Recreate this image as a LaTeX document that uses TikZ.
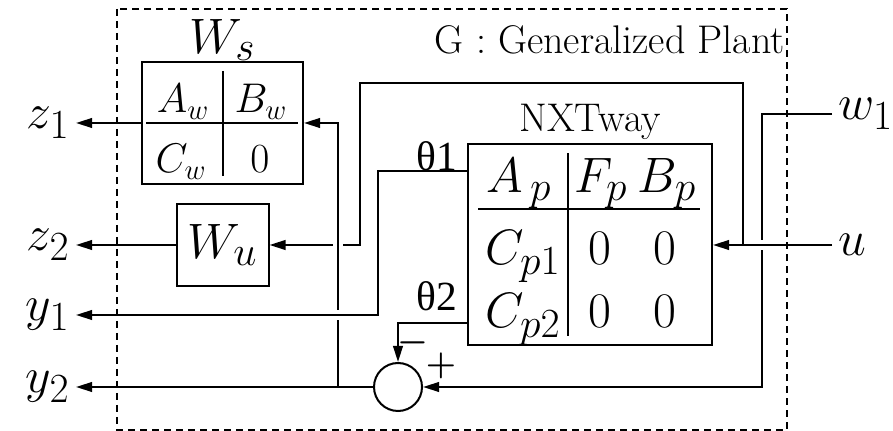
\documentclass[tikz,border=0pt]{standalone}
\usepackage{fontspec}
\newfontfamily\grkfont{Liberation Serif}
\usepackage{tikz}
\usetikzlibrary{arrows.meta, positioning, calc}

\newcommand{\bigtext}{\fontsize{20}{24}\selectfont}

\tikzset{
  block/.style={draw, line width=1pt, inner sep=0pt},
  wire/.style={line width=1pt},
  sig/.style={wire, -{Triangle[length=8pt,width=4.8pt]}},
  jump/.style={wire, preaction={draw=white, line width=5pt}},
  port/.style={font=\Huge, inner sep=3pt},
  entry/.style={anchor=base, inner sep=0pt},
  sign/.style={font=\LARGE\boldmath, inner sep=0pt},
}

\begin{document}
\begin{tikzpicture}[x=0.5pt, y=-0.5pt, node distance=2cm, on grid]
        \useasboundingbox (0,0) rectangle (893,431);

        \node[block, minimum width=80.5pt, minimum height=61pt] (Ws) at (222.5,123) {};
        \node[font=\Huge] (WsName) [above=41.5pt of Ws] {$W_s$};
        \node[block, minimum width=46pt, minimum height=41pt, font=\Huge] (Wu) [below=61pt of Ws] {$W_u$};
        \node[block, minimum width=122pt, minimum height=100.5pt] (NXT) [right=183.75pt of Wu] {};
        \node[font=\bigtext] (NXTname) [above=61.75pt of NXT] {NXTway};
        \node[draw, circle, line width=1pt, minimum size=24pt, inner sep=0pt] (sum) at (398,387) {};
        \node[font=\bigtext, anchor=east, inner sep=0pt] (G) at (785,40) {G : Generalized Plant};

        % weight W_s
        \node[entry, font=\huge] (Aw) at (183,113) {$A_w$};
        \node[entry, font=\huge] (Bw) at (261,113) {$B_w$};
        \node[entry, font=\huge] (Cw) at (181,173) {$C_w$};
        \node[entry, font=\huge] (Dw) at (260,173) {$0$};
        \draw[wire] ([xshift=2.5pt]Ws.west) -- ([xshift=-3pt]Ws.east);
        \draw[wire] ([yshift=-5pt]Ws.north) -- ([yshift=4.5pt]Ws.south);

        % plant
        \node[entry, font=\Huge] (Ap) at (519,193) {$A_{\,p}$};
        \node[entry, font=\Huge] (Fp) at (601,193) {$F_p$};
        \node[entry, font=\Huge] (Bp) at (667,193) {$B_p$};
        \node[entry, font=\Huge] (Cp1) at (523,265) {$C_{p1}$};
        \node[entry, font=\Huge] (D11) at (600,265) {$0$};
        \node[entry, font=\Huge] (D12) at (665,265) {$0$};
        \node[entry, font=\Huge] (Cp2) at (523,328) {$C_{p2}$};
        \node[entry, font=\Huge] (D21) at (600,328) {$0$};
        \node[entry, font=\Huge] (D22) at (665,328) {$0$};
        \draw[wire] ($(NXT.north west)+(11,66)$) -- ($(NXT.north east)+(-13,66)$);
        \draw[wire] ($(NXT.north west)+(101,10)$) -- ($(NXT.south west)+(101,-10)$);

        \node[port, anchor=east] (z1) at (76,123) {$z_1$};
        \node[port, anchor=east] (z2) at (76,245) {$z_2$};
        \node[port, anchor=east] (y1) at (76,315) {$y_1$};
        \node[port, anchor=east] (y2) at (76,387) {$y_2$};
        \node[port, anchor=west] (w1) at (832,114) {$w_1$};
        \node[port, anchor=west] (u) at (832,245) {$u$};

        \node[font=\huge] (th1) at (437,156) {\grkfont θ1};
        \node[font=\huge] (th2) at (437,296) {\grkfont θ2};
        \node[sign] (minus) at (413,343) {$-$};
        \node[sign] (plus) at (441,366) {$+$};

        \coordinate (o1) at ($(NXT.north west)+(0,28)$);
        \coordinate (o2) at ($(NXT.south west)+(0,-23)$);
        \coordinate (b1) at (378,0);
        \coordinate (b2) at (762,0);
        \coordinate (b3) at ($(NXT.east)+(30,0)$);
        \coordinate (b4) at ($(Wu.east)+(90,-162)$);
        \coordinate (b5) at ($(sum.west)+(-35,0)$);

        \draw[sig] (Ws.west) -- (z1.east);
        \draw[sig] (Wu.west) -- (z2.east);
        \draw[sig] (sum.west) -- (y2.east);
        \draw[sig] (o1) -| (b1 |- y1.east) -- (y1.east);
        \draw[sig] (o2) -| (sum.north);
        \draw[sig] (u.west) -- (u.west -| NXT.east);
        \draw[sig] (b3) |- (b4) |- (Wu.east);
        \draw[sig] (w1.west) -| (b2 |- sum.east) -- (sum.east);
        \draw[sig] (b5) |- (Ws.east);

        % crossings
        \draw[jump] ($(b5 |- y1.east)+(-8,0)$) -- ($(b5 |- y1.east)+(8,0)$);
        \draw[jump] ($(b5 |- Wu.east)+(0,-8)$) -- ($(b5 |- Wu.east)+(0,8)$);
        \draw[jump] ($(b2 |- u.west)+(-9,0)$) -- ($(b2 |- u.west)+(9,0)$);

        \draw[line width=0.8pt, dash pattern=on 3.5pt off 2.5pt] (117,9) rectangle (787,430);
\end{tikzpicture}
\end{document}
